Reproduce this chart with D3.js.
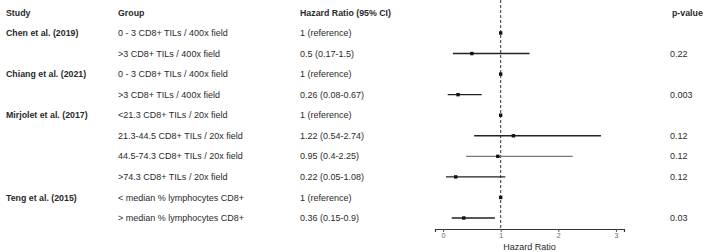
<!DOCTYPE html>
<html>
<head>
<meta charset="utf-8">
<script src="https://cdn.jsdelivr.net/npm/d3@7"></script>
<style>
  body { margin: 0; background: #fff; }
  text { font-family: "Liberation Sans", Arial, sans-serif; }
</style>
</head>
<body>
<div class="canva"></div>
<script>
// table data
const studies = ["Chen et al. (2019)", "", "Chiang et al. (2021)", "", "Mirjolet et al. (2017)", "", "", "", "Teng et al. (2015)", ""];
const groups = [
  "0 - 3 CD8+ TILs / 400x field",
  ">3 CD8+ TILs / 400x field",
  "0 - 3 CD8+ TILs / 400x field",
  ">3 CD8+ TILs / 400x field",
  "<21.3 CD8+ TILs / 20x field",
  "21.3-44.5 CD8+ TILs / 20x field",
  "44.5-74.3 CD8+ TILs / 20x field",
  ">74.3 CD8+ TILs / 20x field",
  "< median % lymphocytes CD8+",
  "> median % lymphocytes CD8+"
];
const hrLabels = ["1 (reference)", "0.5 (0.17-1.5)", "1 (reference)", "0.26 (0.08-0.67)", "1 (reference)",
  "1.22 (0.54-2.74)", "0.95 (0.4-2.25)", "0.22 (0.05-1.08)", "1 (reference)", "0.36 (0.15-0.9)"];
const hr    = [1, 0.5,  1, 0.26, 1, 1.22, 0.95, 0.22, 1, 0.36];
const lower = [1, 0.17, 1, 0.08, 1, 0.54, 0.4,  0.05, 1, 0.15];
const upper = [1, 1.5,  1, 0.67, 1, 2.74, 2.25, 1.08, 1, 0.9];
const pvals = ["", "0.22", "", "0.003", "", "0.12", "0.12", "0.12", "", "0.03"];
const xTicks = [0, 1, 2, 3];

const width = 708, height = 252;

const svg = d3.select(".canva").append("svg")
  .attr("width", width)
  .attr("height", height);

const rows = d3.range(groups.length);
const y = d3.scalePoint().domain(rows).range([33, 218]);
const x = d3.scaleLinear().domain([-0.14, 3.14]).range([435, 624]);

// column headers
const headers = [["Study", 6], ["Group", 118], ["Hazard Ratio (95% CI)", 300], ["p-value", 672]];
svg.selectAll(".hdr").data(headers).enter().append("text")
  .attr("x", d => d[1]).attr("y", 13).attr("dy", "0.35em")
  .attr("font-size", 8.8).attr("font-weight", "bold").attr("fill", "#2a2a2a")
  .text(d => d[0]);

// text columns
const cols = [[studies, 6, "bold"], [groups, 118, "normal"], [hrLabels, 300, "normal"], [pvals, 670, "normal"]];
cols.forEach(c => {
  svg.append("g").selectAll("text").data(c[0]).enter().append("text")
    .attr("x", c[1]).attr("y", (d, i) => y(i)).attr("dy", "0.35em")
    .attr("font-size", c[2] === "bold" ? 8.8 : 9).attr("font-weight", c[2]).attr("fill", "#2a2a2a")
    .text(d => d);
});

// reference line
svg.append("line")
  .attr("x1", x(1)).attr("x2", x(1))
  .attr("y1", 0).attr("y2", 229)
  .attr("stroke", "#333").attr("stroke-width", 1)
  .attr("stroke-dasharray", "3,2");

// CIs
svg.append("g").selectAll("line").data(rows).enter().append("line")
  .attr("x1", i => x(lower[i])).attr("x2", i => x(upper[i]))
  .attr("y1", i => y(i)).attr("y2", i => y(i))
  .attr("stroke", i => i === 6 ? "#777" : "#222")
  .attr("stroke-width", 1.4);

// points
svg.append("g").selectAll("rect").data(rows).enter().append("rect")
  .attr("x", i => x(hr[i]) - 1.7).attr("y", i => y(i) - 1.7)
  .attr("width", 3.4).attr("height", 3.4)
  .attr("fill", "#111");

// x axis
const axis = svg.append("g")
  .attr("transform", "translate(0,229)")
  .call(d3.axisBottom(x).tickValues(xTicks).tickFormat(d3.format("d"))
    .tickSizeOuter(0).tickSize(3).tickPadding(1));
axis.select(".domain").attr("stroke", "#333").attr("stroke-width", 1.2);
axis.selectAll(".tick line").attr("stroke", "#555");
axis.selectAll(".tick text").attr("font-size", 7).attr("fill", "#666")
  .attr("font-family", "Liberation Sans, Arial, sans-serif");

svg.append("text")
  .attr("x", (x.range()[0] + x.range()[1]) / 2).attr("y", 247).attr("dy", "0.35em")
  .attr("text-anchor", "middle").attr("font-size", 9).attr("fill", "#2a2a2a")
  .text("Hazard Ratio");
</script>
</body>
</html>
